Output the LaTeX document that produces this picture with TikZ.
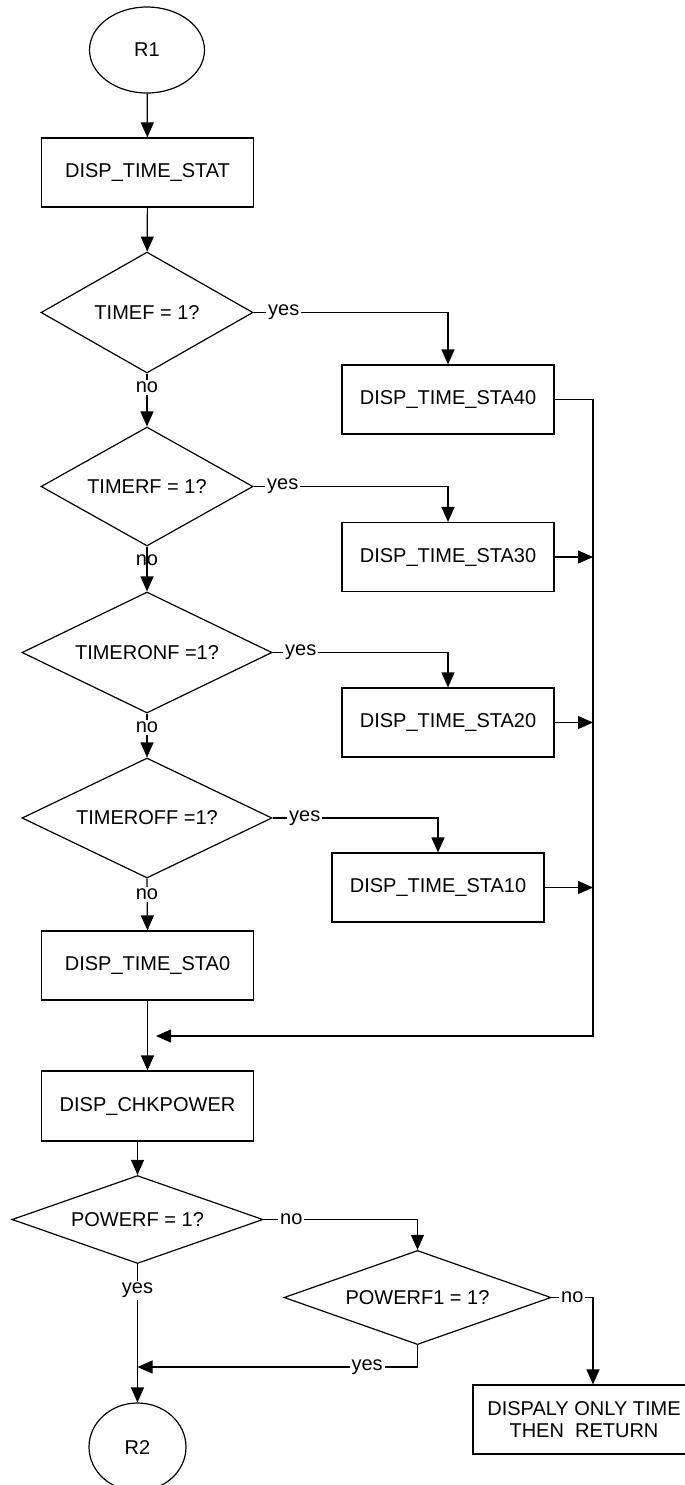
\documentclass[tikz,border=0pt]{standalone}
\usepackage{fontspec}
\setmainfont{Liberation Sans}
\usetikzlibrary{arrows.meta, shapes.geometric, calc}

\tikzset{
  flow/.style={draw, line width=0.6pt, inner sep=0pt},
  procbox/.style={flow, rectangle, minimum width=106pt, minimum height=34.5pt},
  decision/.style={flow, diamond, aspect=1.8},
  terminal/.style={flow, ellipse},
  arr/.style={-{Triangle[length=7.5pt, width=6.5pt]}, line width=0.6pt},
  lbl/.style={fill=white, inner sep=1pt},
}

\begin{document}
\begin{tikzpicture}[x=0.5pt, y=-0.5pt, font=\fontsize{10}{11}\selectfont]
\useasboundingbox (0,0) rectangle (685,1485);

%-- main column
\node[terminal, minimum width=57.5pt, minimum height=43pt] (r1) at (147,50) {R1};
\node[procbox] (stat) at (147.5,172.5) {DISP\_TIME\_STAT};
\node[decision, minimum width=106pt, minimum height=60.5pt] (timef) at (147,312.5) {TIMEF = 1?};
\node[decision, minimum width=106pt, minimum height=59.5pt] (timerf) at (147,486.5) {TIMERF = 1?};
\node[decision, minimum width=125pt, minimum height=60.5pt] (timeronf) at (147,652.5) {TIMERONF =1?};
\node[decision, minimum width=125pt, minimum height=60pt] (timeroff) at (147,818) {TIMEROFF =1?};
\node[procbox] (sta0) at (147.5,965.5) {DISP\_TIME\_STA0};
\node[procbox, minimum height=35pt] (chk) at (147.5,1106) {DISP\_CHKPOWER};
\node[decision, minimum width=125.5pt, minimum height=42.5pt] (powerf) at (137.5,1219.5) {POWERF = 1?};
\node[terminal, minimum width=48.5pt, minimum height=44pt] (r2) at (137.5,1447) {R2};

%-- right column
\node[procbox] (sta40) at (448,399.5) {DISP\_TIME\_STA40};
\node[procbox] (sta30) at (448,557) {DISP\_TIME\_STA30};
\node[procbox] (sta20) at (448,722.5) {DISP\_TIME\_STA20};
\node[procbox] (sta10) at (438,887.5) {DISP\_TIME\_STA10};
\node[decision, minimum width=133.5pt, minimum height=42.5pt] (powerf1) at (417.5,1297.5) {POWERF1 = 1?};
\node[procbox, minimum width=111pt, align=center] (only) at (584,1419.5) {DISPALY ONLY TIME\\THEN\ \ RETURN};

\coordinate (rail) at (593,1036);
\coordinate (merge) at (156,1036);
\coordinate (join) at (137.5,1367);

%-- no branches
\draw[arr] (r1) -- (stat);
\draw[arr] (stat) -- (timef);
\draw[arr] (timef.south) node[lbl, below=3pt] {no} -- (timerf.north);
\draw[arr] (timerf.south) node[below=3pt, inner sep=1pt] {no} -- (timeronf.north);
\draw[arr] (timeronf.south) node[lbl, below=3pt] {no} -- (timeroff.north);
\draw[arr] (timeroff.south) node[lbl, below=4pt] {no} -- (sta0.north);

%-- yes branches
\draw[arr] (timef.east) node[lbl, right=6pt] {yes} -| (sta40.north);
\draw[arr] (timerf.east) node[lbl, right=5.5pt] {yes} -| (sta30.north);
\draw[arr] (timeronf.east) node[lbl, right=5pt] {yes} -| (sta20.north);
\draw[arr] (timeroff.east) node[lbl, right=7pt] {yes} -| (sta10.north);

%-- return rail
\draw[arr] (sta40.east) -| (rail) -- (merge);
\foreach \s in {sta30,sta20,sta10}
  \draw[arr] (\s.east) -- (\s.east -| rail);

\draw[arr] (sta0) -- (chk);
\draw[arr] (powerf.north |- chk.south) -- (powerf.north);

%-- power check
\draw[arr] (powerf.east) node[lbl, right=7pt] {no} -| (powerf1.north);
\draw[arr] (powerf1.east) node[lbl, right=3.5pt] {no} -| (rail |- only.north);
\draw[arr] (powerf.south) node[lbl, below=8pt] {yes} -- (r2.north);
\draw[arr] (powerf1.south) |- node[lbl, pos=0.59] {yes} (join);

\end{tikzpicture}
\end{document}
